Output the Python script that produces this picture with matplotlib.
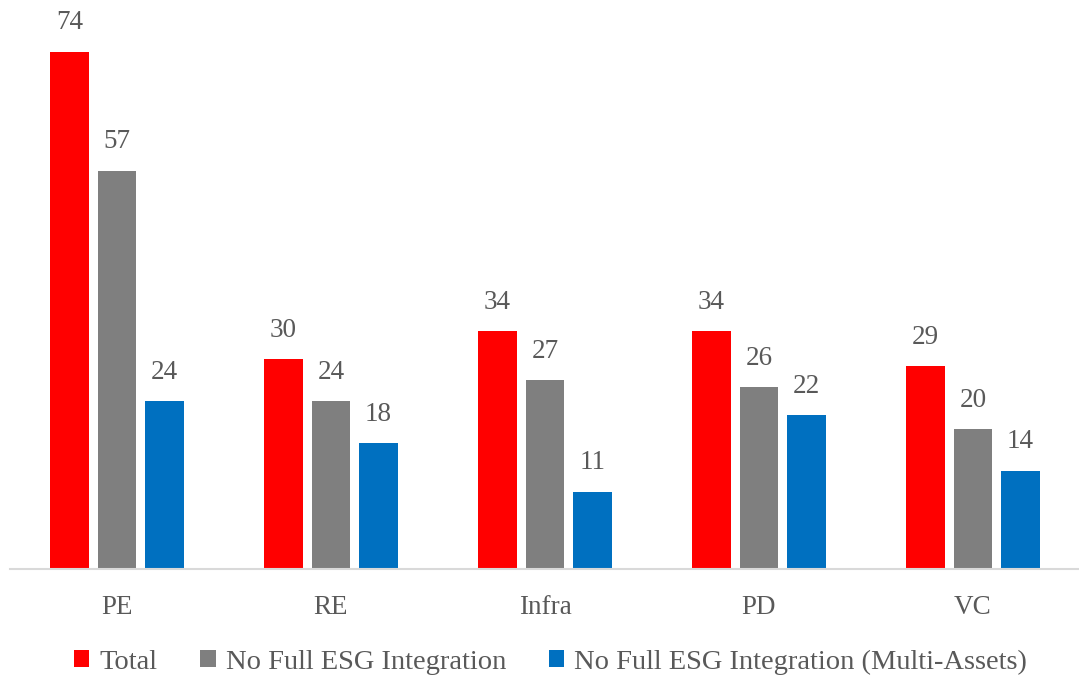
import matplotlib
matplotlib.use("Agg")
import matplotlib.pyplot as plt
import numpy as np

categories = ["PE", "RE", "Infra", "PD", "VC"]
series_names = ["Total", "No Full ESG Integration", "No Full ESG Integration (Multi-Assets)"]
total = [74, 30, 34, 34, 29]
no_full = [57, 24, 27, 26, 20]
no_full_multi = [24, 18, 11, 22, 14]
colors = ["#FF0000", "#7F7F7F", "#0070C0"]

plt.rcParams["font.family"] = ["Liberation Serif", "DejaVu Serif"]
text_color = "#595959"

fig = plt.figure(figsize=(10.79, 6.77), dpi=100)
ax = fig.add_axes([10 / 1079, 1 - 569 / 677, 1070 / 1079, 569 / 677])

x = np.arange(len(categories))
step = 0.222
width = 0.178
for i, (vals, name, c) in enumerate(zip([total, no_full, no_full_multi], series_names, colors)):
    pos = x + (i - 1) * step
    bars = ax.bar(pos, vals, width=width, color=c, label=name)
    for b, v in zip(bars, vals):
        ax.annotate(str(v), (b.get_x() + b.get_width() / 2, v), xytext=(0, 12),
                    textcoords="offset points", ha="center", va="bottom",
                    fontsize=19.5, color=text_color)

ax.set_xlim(-0.5, 4.5)
ax.set_ylim(0, 81.4)
ax.set_xticks(x)
ax.set_xticklabels(categories, fontsize=19.5, color=text_color)
ax.tick_params(axis="x", length=0, pad=19)
ax.set_yticks([])
for s in ["top", "right", "left"]:
    ax.spines[s].set_visible(False)
ax.spines["bottom"].set_color("#D9D9D9")
ax.spines["bottom"].set_linewidth(1.5)

leg = fig.legend(loc="center", bbox_to_anchor=(0.5 + 11 / 1079, 1 - 662 / 677), ncol=3,
                 frameon=False, fontsize=20.5, handlelength=0.55, handleheight=0.55,
                 handletextpad=0.35, columnspacing=1.5)
for t in leg.get_texts():
    t.set_color(text_color)

fig.savefig("out.png", dpi=100)
